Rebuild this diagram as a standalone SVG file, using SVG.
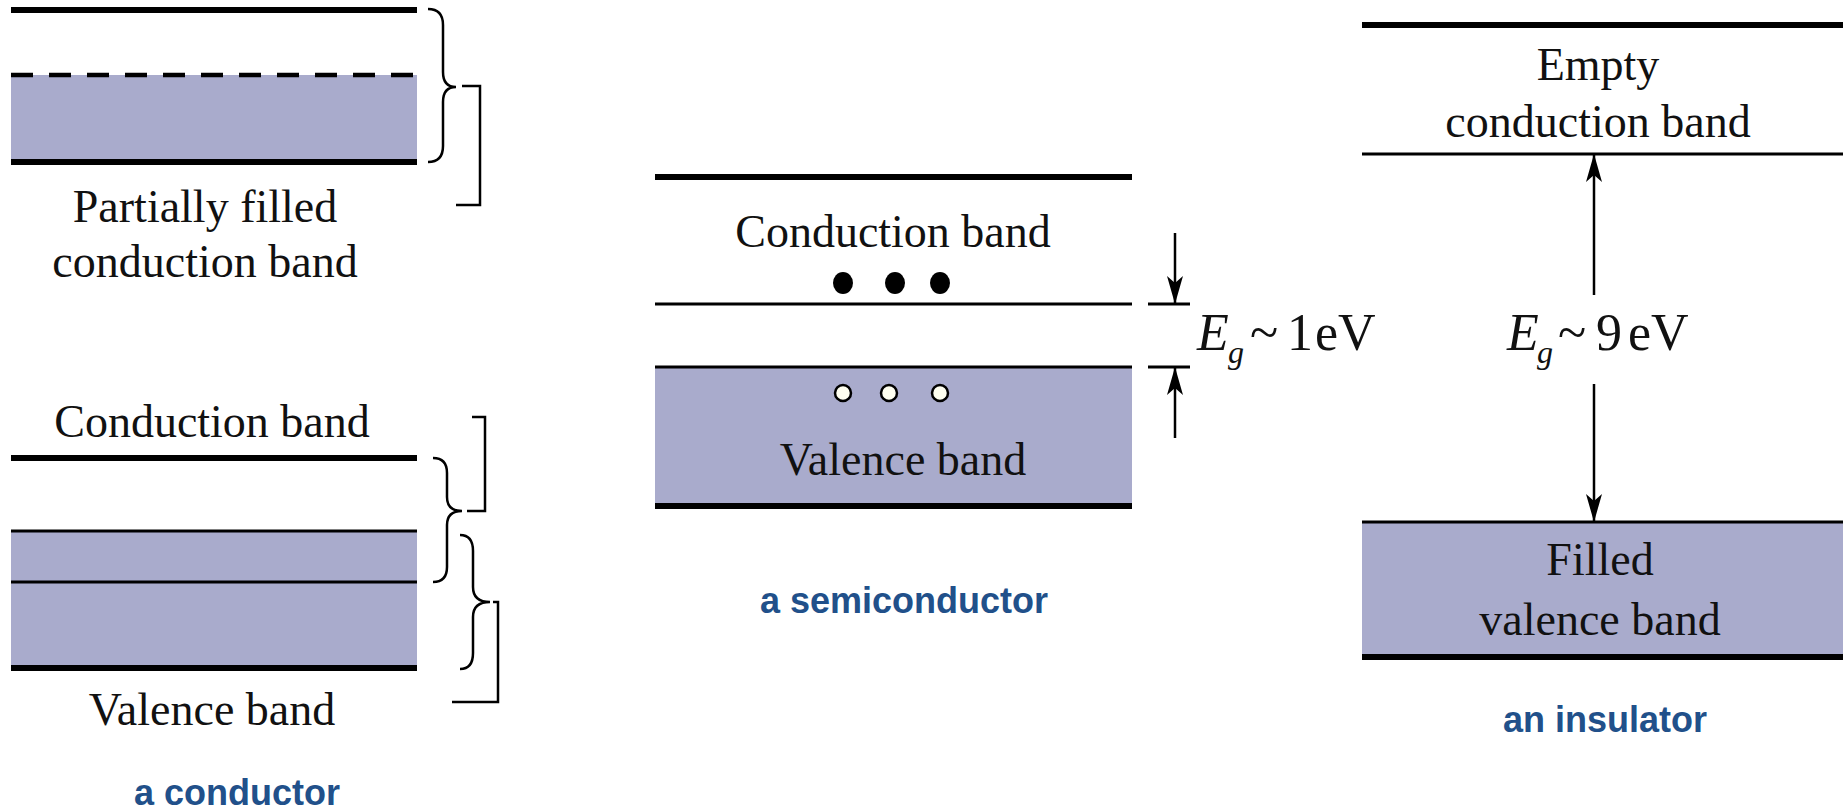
<svg xmlns="http://www.w3.org/2000/svg" width="1843" height="812" viewBox="0 0 1843 812">
<defs>
<style>
.band{fill:#a9abcc;stroke:none}
.thick{stroke:#000;stroke-width:6;fill:none}
.thin{stroke:#000;stroke-width:3;fill:none}
.dash{stroke:#000;stroke-width:4.5;stroke-dasharray:22 16;fill:none}
.brace{stroke:#000;stroke-width:2.5;fill:none;stroke-linejoin:miter}
.lbl{font-family:"Liberation Serif","Times New Roman",serif;font-size:46px;fill:#111;text-anchor:middle}
.eg{font-family:"Liberation Serif","Times New Roman",serif;font-size:52px;fill:#111}
.cap{font-family:"Liberation Sans",Arial,sans-serif;font-size:36px;font-weight:bold;fill:#21508a;text-anchor:middle}
.arr{stroke:#000;stroke-width:2.5;fill:none;marker-end:url(#ah)}
</style>
<marker id="ah" markerUnits="userSpaceOnUse" viewBox="0 -8 28 16" refX="28" refY="0" markerWidth="28" markerHeight="16" orient="auto">
<path d="M0,-8 L28,0 L0,8 L7,0 z" fill="#000"/>
</marker>
</defs>
<rect width="1843" height="812" fill="#fff"/>

<g id="conductor">
  <g id="cond-partial">
    <rect class="band" x="11" y="75" width="406" height="87"/>
    <line class="thick" x1="11" y1="10" x2="417" y2="10"/>
    <line class="dash" x1="11" y1="75" x2="417" y2="75"/>
    <line class="thick" x1="11" y1="162" x2="417" y2="162"/>
    <path class="brace" d="M428,9 Q443,9 443,25 L443,72 Q443,87 456,87 Q443,87 443,102 L443,146 Q443,162 428,162"/>
    <path class="brace" d="M462,86 H480 V205 H456"/>
    <text class="lbl" x="205" y="222">Partially filled</text>
    <text class="lbl" x="205" y="277">conduction band</text>
  </g>
  <g id="cond-overlap">
    <text class="lbl" x="212" y="437">Conduction band</text>
    <rect class="band" x="11" y="531" width="406" height="137"/>
    <line class="thick" x1="11" y1="458" x2="417" y2="458"/>
    <line class="thin" x1="11" y1="531" x2="417" y2="531"/>
    <line class="thin" x1="11" y1="582" x2="417" y2="582"/>
    <line class="thick" x1="11" y1="668" x2="417" y2="668"/>
    <path class="brace" d="M433,458 Q447,458 447,473 L447,497 Q447,511 462,511 Q447,511 447,525 L447,567 Q447,582 433,582"/>
    <path class="brace" d="M467,511 H485 V417 H472"/>
    <path class="brace" d="M460,535 Q473,535 473,551 L473,587 Q473,602 490,602 Q473,602 473,617 L473,653 Q473,669 460,669"/>
    <path class="brace" d="M493,602 H498 V702 H452"/>
    <text class="lbl" x="212" y="725">Valence band</text>
  </g>
  <text class="cap" x="237" y="805">a conductor</text>
</g>

<g id="semiconductor">
  <g id="semi-conduction">
    <line class="thick" x1="655" y1="177" x2="1132" y2="177"/>
    <text class="lbl" x="893" y="247">Conduction band</text>
    <ellipse cx="843" cy="283" rx="10" ry="11" fill="#000"/>
    <ellipse cx="895" cy="283" rx="10" ry="11" fill="#000"/>
    <ellipse cx="940" cy="283" rx="10" ry="11" fill="#000"/>
    <line class="thin" x1="655" y1="304" x2="1132" y2="304"/>
  </g>
  <g id="semi-valence">
    <rect class="band" x="655" y="367" width="477" height="139"/>
    <line class="thin" x1="655" y1="367" x2="1132" y2="367"/>
    <line class="thick" x1="655" y1="506" x2="1132" y2="506"/>
    <circle cx="843" cy="393" r="8" fill="#fffff0" stroke="#000" stroke-width="2.5"/>
    <circle cx="889" cy="393" r="8" fill="#fffff0" stroke="#000" stroke-width="2.5"/>
    <circle cx="940" cy="393" r="8" fill="#fffff0" stroke="#000" stroke-width="2.5"/>
    <text class="lbl" x="903" y="475">Valence band</text>
  </g>
  <g id="semi-gap">
    <line class="thin" x1="1148" y1="304" x2="1190" y2="304"/>
    <line class="thin" x1="1148" y1="367" x2="1190" y2="367"/>
    <text class="eg" y="350"><tspan x="1197" font-style="italic">E</tspan><tspan x="1228" y="363" font-size="32" font-style="italic">g</tspan><tspan x="1250" y="350">~</tspan><tspan x="1287">1</tspan><tspan x="1315">eV</tspan></text>
  </g>
  <text class="cap" x="904" y="613">a semiconductor</text>
</g>

<g id="insulator">
  <g id="ins-conduction">
    <line class="thick" x1="1362" y1="25" x2="1843" y2="25"/>
    <text class="lbl" x="1598" y="80">Empty</text>
    <text class="lbl" x="1598" y="137">conduction band</text>
    <line class="thin" x1="1362" y1="154" x2="1843" y2="154"/>
  </g>
  <g id="ins-gap">
    <text class="eg" y="350"><tspan x="1507" font-style="italic">E</tspan><tspan x="1537" y="363" font-size="32" font-style="italic">g</tspan><tspan x="1558" y="350">~</tspan><tspan x="1596">9</tspan><tspan x="1628">eV</tspan></text>
  </g>
  <g id="ins-valence">
    <rect class="band" x="1362" y="522" width="481" height="135"/>
    <line class="thin" x1="1362" y1="522" x2="1843" y2="522"/>
    <line class="thick" x1="1362" y1="657" x2="1843" y2="657"/>
    <text class="lbl" x="1600" y="575">Filled</text>
    <text class="lbl" x="1600" y="635">valence band</text>
  </g>
  <text class="cap" x="1605" y="732">an insulator</text>
</g>

<g id="connectors">
  <line class="arr" x1="1175" y1="233" x2="1175" y2="304"/>
  <line class="arr" x1="1175" y1="438" x2="1175" y2="367"/>
  <line class="arr" x1="1594" y1="295" x2="1594" y2="154"/>
  <line class="arr" x1="1594" y1="384" x2="1594" y2="522"/>
</g>
</svg>
